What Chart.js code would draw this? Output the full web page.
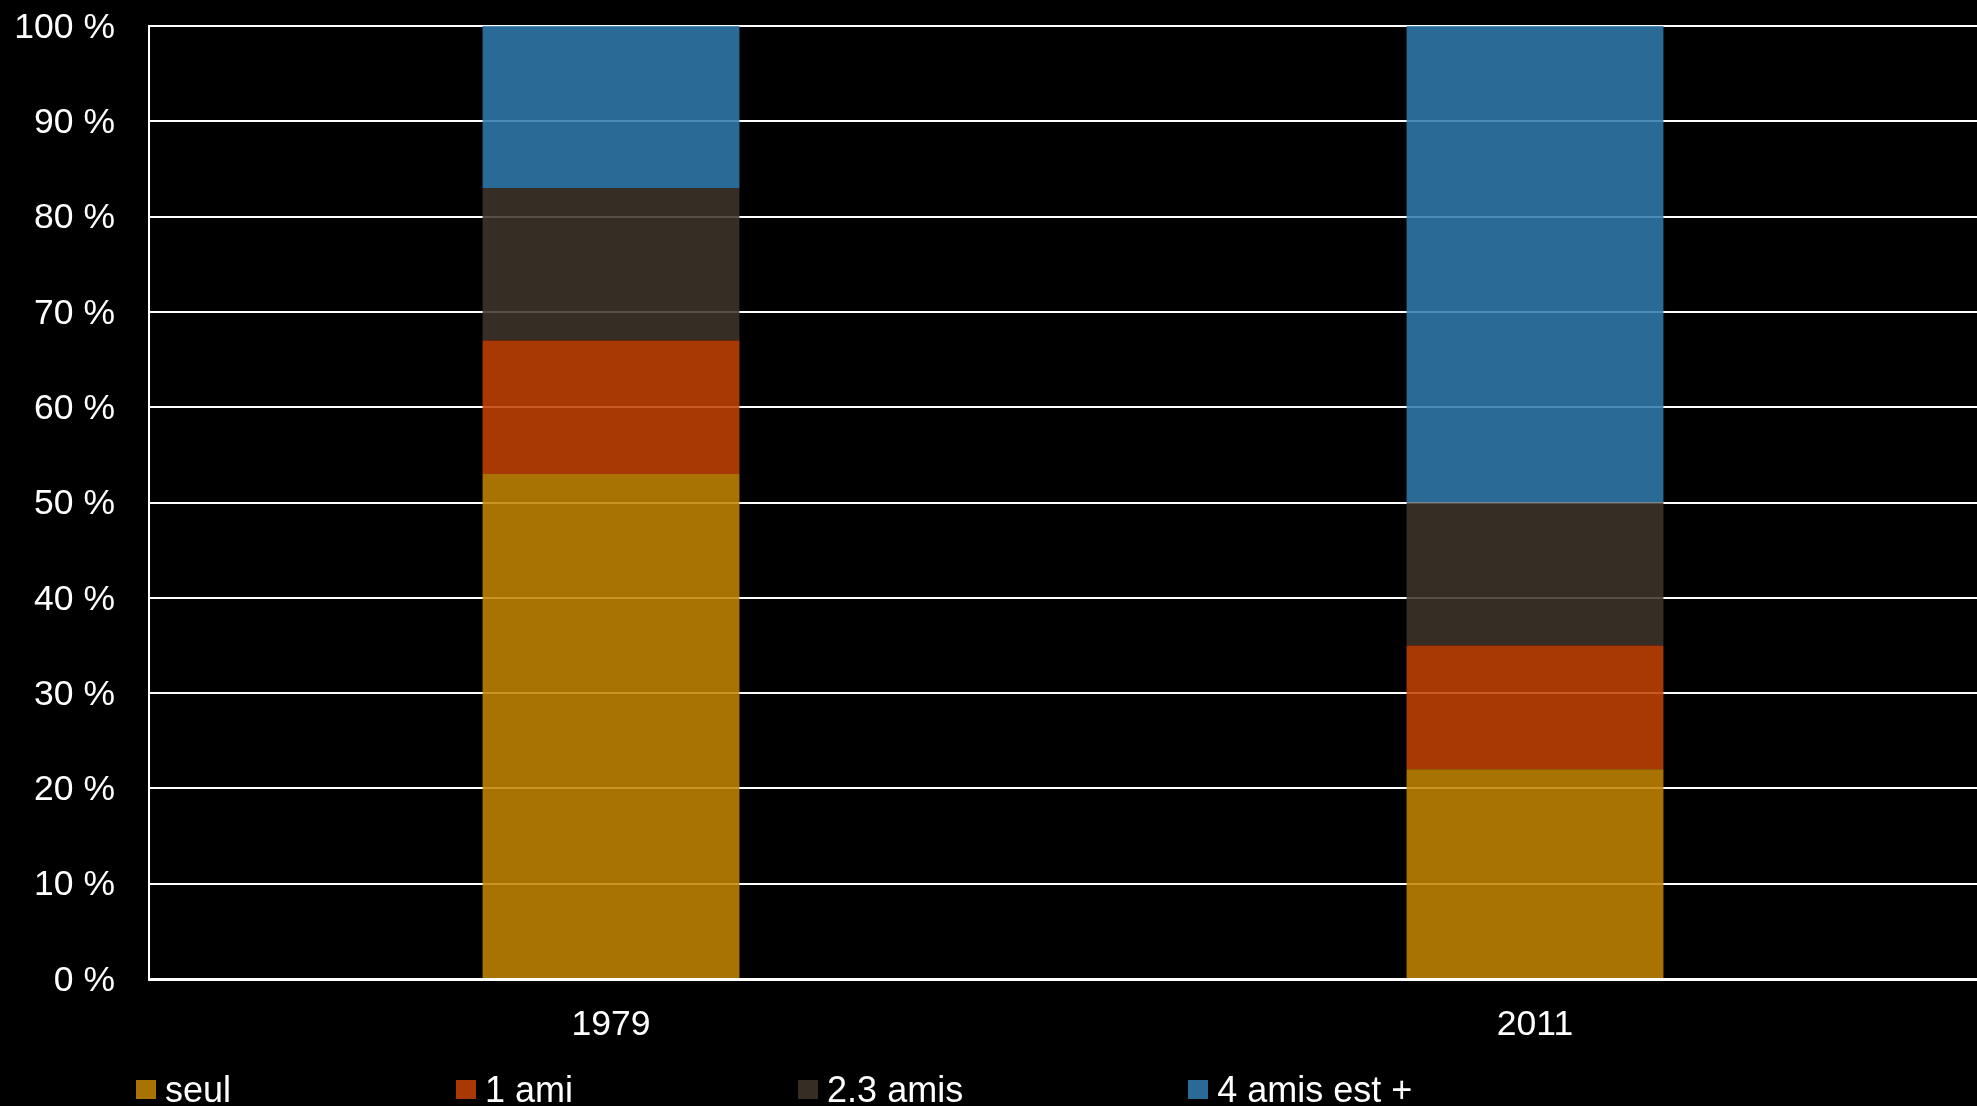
<!DOCTYPE html>
<html>
<head>
<meta charset="utf-8">
<script src="https://cdn.jsdelivr.net/npm/chart.js@4.4.1/dist/chart.umd.min.js"></script>
<style>
  html, body { margin: 0; padding: 0; background: #000; overflow: hidden; }
  body { width: 1977px; height: 1106px; position: relative; font-family: "Liberation Sans", Arial, sans-serif; }
  #wrap { position: absolute; left: 0; top: 0; width: 1997px; height: 1106px; }
  #legend { position: absolute; left: 136px; top: 1069px; display: flex; color: #fff; font-size: 36px; white-space: nowrap; }
  #legend .item { display: flex; align-items: flex-start; margin-right: 225px; }
  #legend .box { width: 20px; height: 19px; margin-top: 11px; margin-right: 9px; }
</style>
</head>
<body>
<div id="wrap"><canvas id="chart" width="1997" height="1106"></canvas></div>
<div id="legend"></div>
<script>
const years = ['1979', '2011'];
const groups = ['seul', '1 ami', '2.3 amis', '4 amis est +'];
const seul = [53, 22];
const unAmi = [14, 13];
const deuxTroisAmis = [16, 15];
const quatreAmisPlus = [17, 50];
const yTicks = [0, 10, 20, 30, 40, 50, 60, 70, 80, 90, 100];

const colors = [
    'rgba(194, 132, 5, 0.87)',
    'rgba(194, 66, 5, 0.87)',
    'rgba(62, 52, 41, 0.87)',
    'rgba(47, 122, 174, 0.87)'
];
const legendColors = ['#a87304', '#a93904', '#362d24', '#296a97'];

const series = [seul, unAmi, deuxTroisAmis, quatreAmisPlus];

const font = { family: '"Liberation Sans", Arial, sans-serif', size: 35.5 };

new Chart(document.getElementById('chart').getContext('2d'), {
    type: 'bar',
    data: {
        labels: years,
        datasets: series.map((values, i) => ({
            label: groups[i],
            data: values,
            backgroundColor: colors[i],
            borderWidth: 0,
            barPercentage: 0.278,
            categoryPercentage: 1
        }))
    },
    options: {
        responsive: false,
        animation: false,
        layout: { padding: { top: 26, right: 0, bottom: 63, left: 0 } },
        plugins: {
            legend: { display: false },
            tooltip: { enabled: false }
        },
        scales: {
            x: {
                stacked: true,
                grid: { display: false },
                border: { display: true, color: '#fff', width: 3 },
                ticks: { color: '#fff', font: font, padding: 17 },
                afterFit: s => { s.height = 64; s.paddingLeft = 0; s.paddingRight = 0; }
            },
            y: {
                stacked: true,
                min: 0,
                max: 100,
                afterBuildTicks: s => { s.ticks = yTicks.map(v => ({ value: v })); },
                grid: { color: '#fff', lineWidth: 2, drawTicks: false },
                border: { display: true, color: '#fff', width: 2 },
                ticks: {
                    color: '#fff',
                    font: font,
                    padding: 34,
                    labelOffset: 2,
                    callback: v => v + ' %'
                },
                afterFit: s => { s.width = 149; s.paddingTop = 0; s.paddingBottom = 0; }
            }
        }
    }
});

// legend under the plot
const legend = document.getElementById('legend');
groups.forEach((name, i) => {
    const item = document.createElement('div');
    item.className = 'item';
    const box = document.createElement('span');
    box.className = 'box';
    box.style.background = legendColors[i];
    const text = document.createElement('span');
    text.textContent = name;
    item.appendChild(box);
    item.appendChild(text);
    legend.appendChild(item);
});
</script>
</body>
</html>
